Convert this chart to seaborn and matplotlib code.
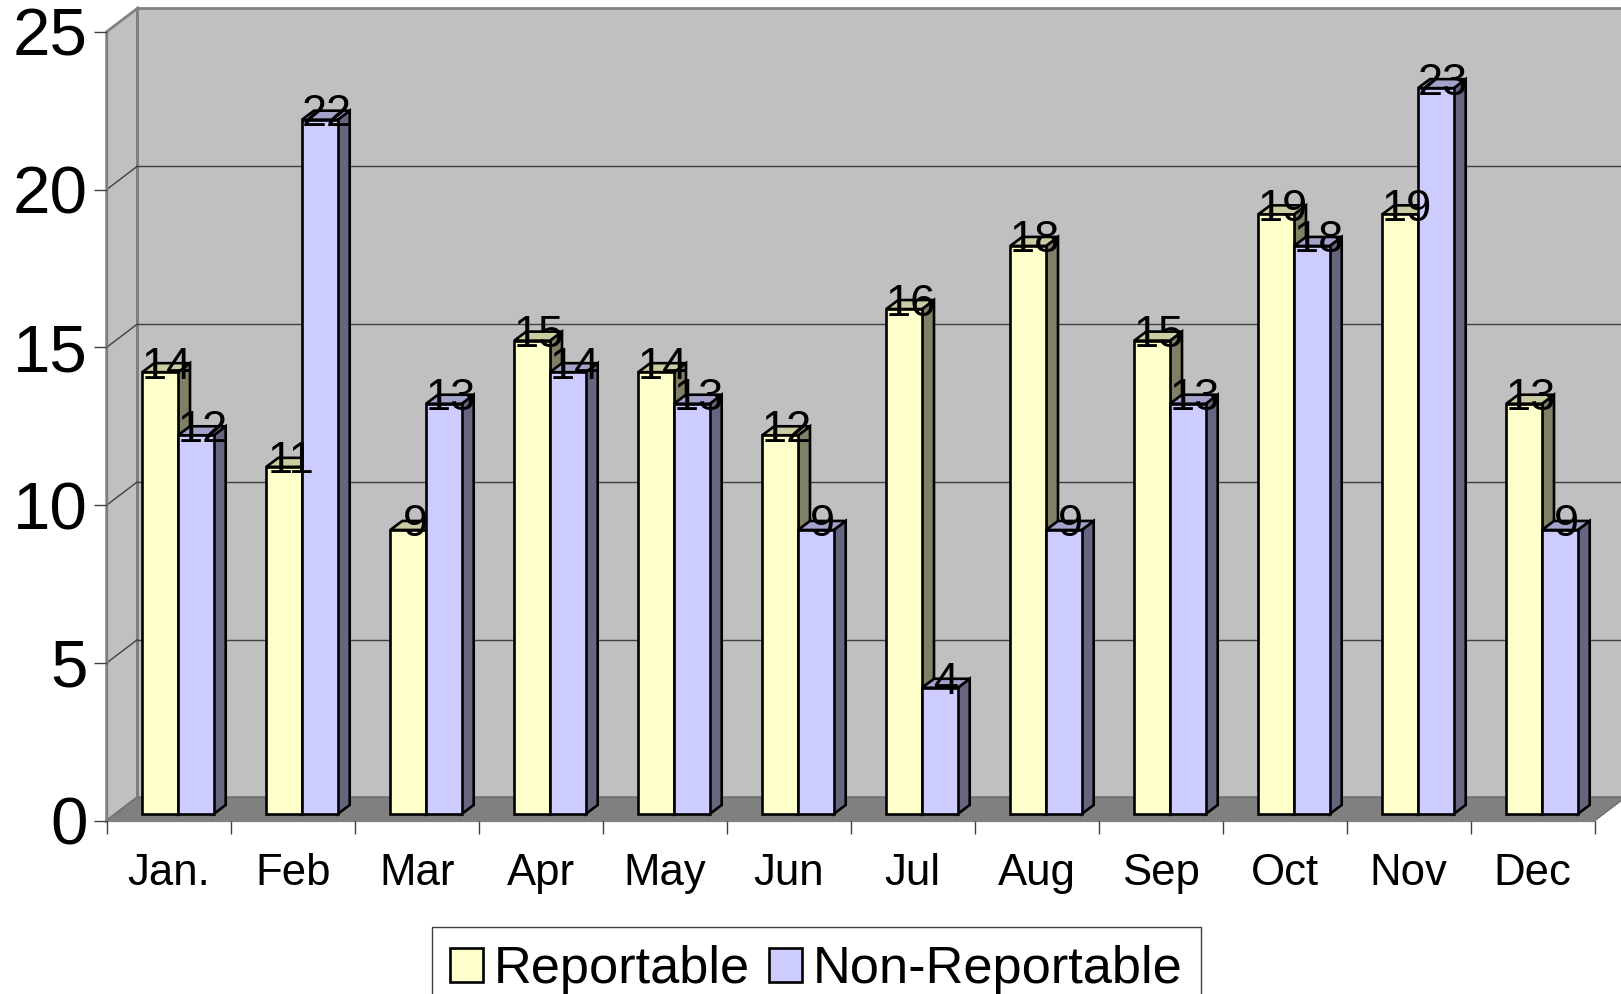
import pandas as pd
import matplotlib.pyplot as plt
import seaborn as sns
from matplotlib.patches import Polygon
from matplotlib.transforms import Affine2D, IdentityTransform

months = ['Jan.', 'Feb', 'Mar', 'Apr', 'May', 'Jun', 'Jul', 'Aug', 'Sep', 'Oct', 'Nov', 'Dec']
reportable = [14, 11, 9, 15, 14, 12, 16, 18, 15, 19, 19, 13]
non_reportable = [12, 22, 13, 14, 13, 9, 4, 9, 13, 18, 23, 9]
series_names = ['Reportable', 'Non-Reportable']
y_ticks = [0, 5, 10, 15, 20, 25]

# front, top, side colours of the fake 3D bars
front_colors = ['#FFFFCC', '#CCCCFF']
top_colors = ['#CCCCA3', '#A3A3CC']
side_colors = ['#808066', '#666680']

# pixel offsets of the 3D projection (y up)
WALL_DX, WALL_DY = 30.7, 23.3
BAR_DX, BAR_DY = 9.3, 6.7
DEPTH_DX, DEPTH_DY = 12, 9

sns.set_style('white')
plt.rcParams['font.family'] = ['Liberation Sans', 'DejaVu Sans']

df = pd.DataFrame({
    'Month': months * 2,
    'Type': [series_names[0]] * 12 + [series_names[1]] * 12,
    'Count': reportable + non_reportable,
})

fig = plt.figure(figsize=(16.21, 9.94), dpi=100)
ax = fig.add_axes([106.7 / 1621, (994 - 820.7) / 994, 1488 / 1621, 789 / 994])
ax.patch.set_visible(False)

sns.barplot(data=df, x='Month', y='Count', hue='Type', hue_order=series_names,
            palette=front_colors, saturation=1, width=0.576, gap=0, errorbar=None,
            edgecolor='black', linewidth=1.9, ax=ax)
ax.set_xlim(-0.5, 11.5)
ax.set_ylim(0, 25)
ax.set_xlabel('')
ax.set_ylabel('')


def shifted(dx, dy):
    return ax.transData + Affine2D().translate(dx, dy)


def to_px(x, y, dx=0, dy=0):
    px, py = ax.transData.transform((x, y))
    return (px + dx, py + dy)


# Walls and floor
x0, x1 = ax.get_xlim()
y0, y1 = ax.get_ylim()
wall_edge = '#808080'
ax.add_patch(Polygon([to_px(x0, y0, WALL_DX, WALL_DY), to_px(x1, y0, WALL_DX, WALL_DY),
                      to_px(x1, y1, WALL_DX, WALL_DY), to_px(x0, y1, WALL_DX, WALL_DY)],
                     transform=IdentityTransform(), facecolor='#C0C0C0', edgecolor=wall_edge,
                     linewidth=2, zorder=0.1, clip_on=False))
ax.add_patch(Polygon([to_px(x0, y0), to_px(x0, y1), to_px(x0, y1, WALL_DX, WALL_DY),
                      to_px(x0, y0, WALL_DX, WALL_DY)],
                     transform=IdentityTransform(), facecolor='#C0C0C0', edgecolor=wall_edge,
                     linewidth=2, zorder=0.1, clip_on=False))
ax.add_patch(Polygon([to_px(x0, y0), to_px(x1, y0), to_px(x1, y0, WALL_DX, WALL_DY),
                      to_px(x0, y0, WALL_DX, WALL_DY)],
                     transform=IdentityTransform(), facecolor='#808080', edgecolor='#707070',
                     linewidth=1, zorder=0.2, clip_on=False))

# Gridlines on the back wall plus the diagonal on the side wall
for t in y_ticks[1:-1]:
    ax.plot([x0, x1], [t, t], color='#404040', lw=1, transform=shifted(WALL_DX, WALL_DY),
            zorder=0.3, clip_on=False)
    ax.plot(*zip(to_px(x0, t), to_px(x0, t, WALL_DX, WALL_DY)), color='#404040', lw=1,
            transform=IdentityTransform(), zorder=0.3, clip_on=False)

# Bars: side and top faces come from the seaborn rectangles
for s, container in enumerate(ax.containers):
    for bar in container:
        left, right = bar.get_x(), bar.get_x() + bar.get_width()
        h = bar.get_height()
        bar.set_transform(shifted(BAR_DX, BAR_DY))
        bar.set_clip_on(False)
        dxa, dya = BAR_DX, BAR_DY
        dxb, dyb = BAR_DX + DEPTH_DX, BAR_DY + DEPTH_DY
        side = [to_px(right, 0, dxa, dya), to_px(right, 0, dxb, dyb),
                to_px(right, h, dxb, dyb), to_px(right, h, dxa, dya)]
        top = [to_px(left, h, dxa, dya), to_px(left, h, dxb, dyb),
               to_px(right, h, dxb, dyb), to_px(right, h, dxa, dya)]
        bar_order = 1 + (bar.get_x() + 0.5) * 2 + s * 0.5
        for pts, col in [(side, side_colors[s]), (top, top_colors[s])]:
            ax.add_patch(Polygon(pts, transform=IdentityTransform(), facecolor=col,
                                 edgecolor='black', linewidth=1.9, zorder=bar_order, clip_on=False))
        bar.set_zorder(bar_order + 0.01)

# Value labels sit over the bar tops
for s, container in enumerate(ax.containers):
    for bar in container:
        ax.text(bar.get_x() + bar.get_width() / 2, bar.get_height(), str(int(bar.get_height())),
                transform=shifted(BAR_DX + 7, BAR_DY - 6.5), ha='center', va='baseline',
                fontsize=32.5, color='black', zorder=60, clip_on=False)

# Axes lines and ticks
sns.despine(ax=ax, top=True, right=True)
for side_name in ['left', 'bottom']:
    ax.spines[side_name].set_color('#808080')
    ax.spines[side_name].set_linewidth(1.6)
    ax.spines[side_name].set_zorder(0.5)
ax.set_yticks(y_ticks)
ax.set_xticks([i - 0.5 for i in range(13)], minor=True)
ax.tick_params(axis='x', which='major', length=0, pad=23, labelsize=31.5, labelcolor='black')
ax.tick_params(axis='x', which='minor', bottom=True, length=9.4, width=1, color='#404040')
ax.tick_params(axis='y', which='major', left=True, length=9.4, width=1, color='#404040',
               pad=4, labelsize=48.5, labelcolor='black')

# Legend runs off the bottom of the picture like the original
sns.move_legend(ax, loc='upper left', bbox_to_anchor=(432 / 1621, 1 - 927 / 994),
                bbox_transform=fig.transFigure, ncol=2, title=None, frameon=True, fancybox=False,
                edgecolor='#404040', framealpha=1, fontsize=37.7, borderaxespad=0, borderpad=0.35,
                handlelength=0.63, handleheight=0.63, handletextpad=0.2, columnspacing=0.37,
                labelcolor='black')
legend = ax.get_legend()
legend.set_zorder(70)
legend.get_frame().set_linewidth(1)
for handle in legend.legend_handles:
    handle.set_edgecolor('black')
    handle.set_linewidth(1.9)

fig.savefig('out.png', dpi=100)
plt.close(fig)
